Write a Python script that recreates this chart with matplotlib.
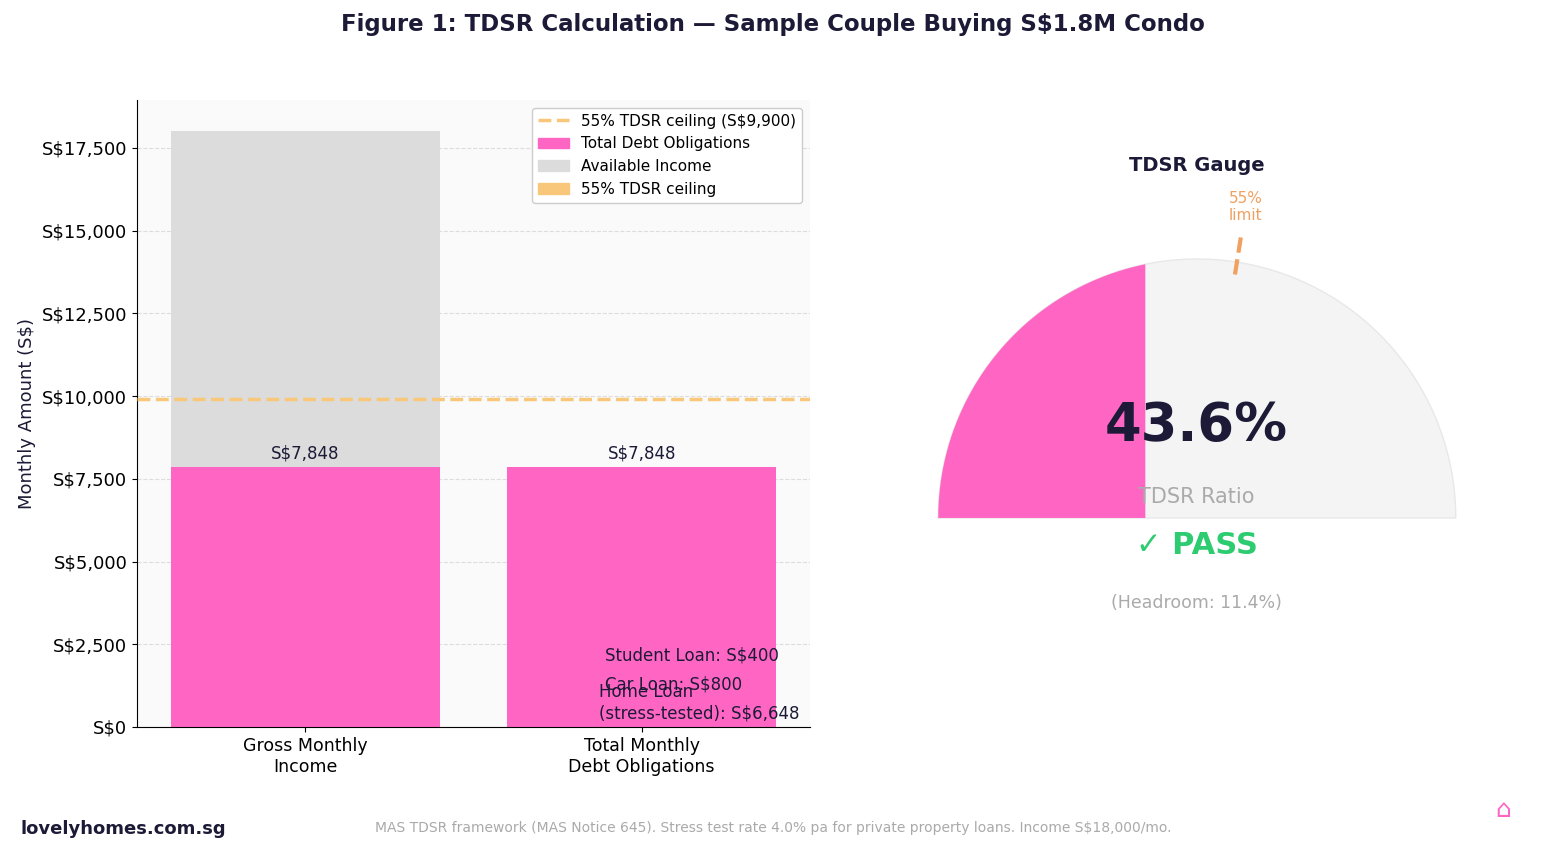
import numpy as np
import matplotlib.pyplot as plt
from matplotlib.patches import Patch
from matplotlib.lines import Line2D

INCOME = 18000
DEBT = 7848
CEILING = 9900
TDSR = 43.6
LIMIT = 55
CATEGORIES = ["Gross Monthly\nIncome", "Total Monthly\nDebt Obligations"]
COMPONENTS = ["Student Loan: S$400", "Car Loan: S$800", "Home Loan\n(stress-tested): S$6,648"]
COMPONENT_Y = [2150, 1270, 730]

PINK = "#ff66c4"
GREY = "#dcdcdc"
ORANGE = "#f9c77a"
DARK = "#1c1a36"

fig = plt.figure(figsize=(15.46, 8.48), dpi=100)
fig.suptitle("Figure 1: TDSR Calculation — Sample Couple Buying S$1.8M Condo",
             fontsize=16.5, fontweight="bold", color=DARK, y=0.985)

# --- bar panel ---
ax = fig.add_axes([137/1546, 1-727/848, 673/1546, 627/848])
ax.set_facecolor("#fafafa")
x = np.arange(len(CATEGORIES))
ax.bar(x[0], DEBT, width=0.8, color=PINK, zorder=2)
ax.bar(x[0], INCOME - DEBT, bottom=DEBT, width=0.8, color=GREY, zorder=2)
ax.bar(x[1], DEBT, width=0.8, color=PINK, zorder=2)
for xi in x:
    ax.text(xi, DEBT + 150, f"S${DEBT:,}", ha="center", va="bottom", fontsize=12, color=DARK)
ax.axhline(CEILING, color=ORANGE, ls="--", lw=2.5, zorder=3)
ax.text(0.89, COMPONENT_Y[0], COMPONENTS[0], ha="left", va="center", fontsize=12, color=DARK, zorder=4)
ax.text(0.89, COMPONENT_Y[1], COMPONENTS[1], ha="left", va="center", fontsize=12, color=DARK, zorder=4)
ax.text(1.468, COMPONENT_Y[2], COMPONENTS[2], ha="right", va="center", multialignment="left",
        fontsize=12, color=DARK, zorder=4)
ax.set_xlim(-0.5, 1.5)
ax.set_ylim(0, 18950)
ax.set_xticks(x)
ax.set_xticklabels(CATEGORIES, fontsize=12.5)
ax.set_yticks(np.arange(0, 17501, 2500))
ax.set_yticklabels([f"S${v:,}" for v in np.arange(0, 17501, 2500)], fontsize=13)
ax.set_ylabel("Monthly Amount (S$)", fontsize=13, color=DARK)
ax.grid(axis="y", ls="--", color="#dddddd", zorder=0)
for s in ["top", "right"]:
    ax.spines[s].set_visible(False)
handles = [Line2D([0], [0], color=ORANGE, ls="--", lw=2.5),
           Patch(color=PINK), Patch(color=GREY), Patch(color=ORANGE)]
labels = [f"55% TDSR ceiling (S${CEILING:,})", "Total Debt Obligations",
          "Available Income", "55% TDSR ceiling"]
ax.legend(handles, labels, loc="upper right", fontsize=11, framealpha=1, edgecolor="#cccccc")

# --- gauge panel ---
g = fig.add_axes([886/1546, 214/848, 621/1546, 492/848])
g.set_xlim(-1.2, 1.2)
g.set_ylim(-0.45, 1.45)
g.axis("off")
t = np.linspace(0, np.pi, 300)
g.fill_between(np.cos(t), 0, np.sin(t), color="#f4f4f4", edgecolor="#e8e8e8", lw=1)
tp = np.linspace(np.pi, np.pi - TDSR / 100 * np.pi, 300)
g.fill_between(np.cos(tp), 0, np.sin(tp), color=PINK, lw=0)
a = np.pi - LIMIT / 100 * np.pi
g.plot([0.95 * np.cos(a), 1.12 * np.cos(a)], [0.95 * np.sin(a), 1.12 * np.sin(a)],
       color="#f0a060", ls="--", lw=3)
g.text(1.22 * np.cos(a), 1.2, "55%\nlimit", ha="center", va="center", fontsize=11, color="#f0a060")
g.text(0, 1.36, "TDSR Gauge", ha="center", va="center", fontsize=14, fontweight="bold", color=DARK)
g.text(0, 0.355, f"{TDSR}%", ha="center", va="center", fontsize=38, fontweight="bold", color=DARK)
g.text(0, 0.08, "TDSR Ratio", ha="center", va="center", fontsize=15, color="#aaaaaa")
g.text(0, -0.108, "✓ PASS", ha="center", va="center", fontsize=22, fontweight="bold", color="#2ecc71")
g.text(0, -0.33, f"(Headroom: {LIMIT - TDSR:.1f}%)", ha="center", va="center", fontsize=12.5, color="#aaaaaa")

# --- footer ---
fig.text(20/1546, 1-829/848, "lovelyhomes.com.sg", fontsize=13, fontweight="bold", color=DARK, va="center")
fig.text(773/1546, 1-828/848,
         "MAS TDSR framework (MAS Notice 645). Stress test rate 4.0% pa for private property loans. Income S$18,000/mo.",
         fontsize=10, color="#aaaaaa", ha="center", va="center")
fig.text(1503/1546, 1-810/848, "⌂", fontsize=18, color=PINK, ha="center", va="center")

fig.savefig("out.png", dpi=100, facecolor="white")
